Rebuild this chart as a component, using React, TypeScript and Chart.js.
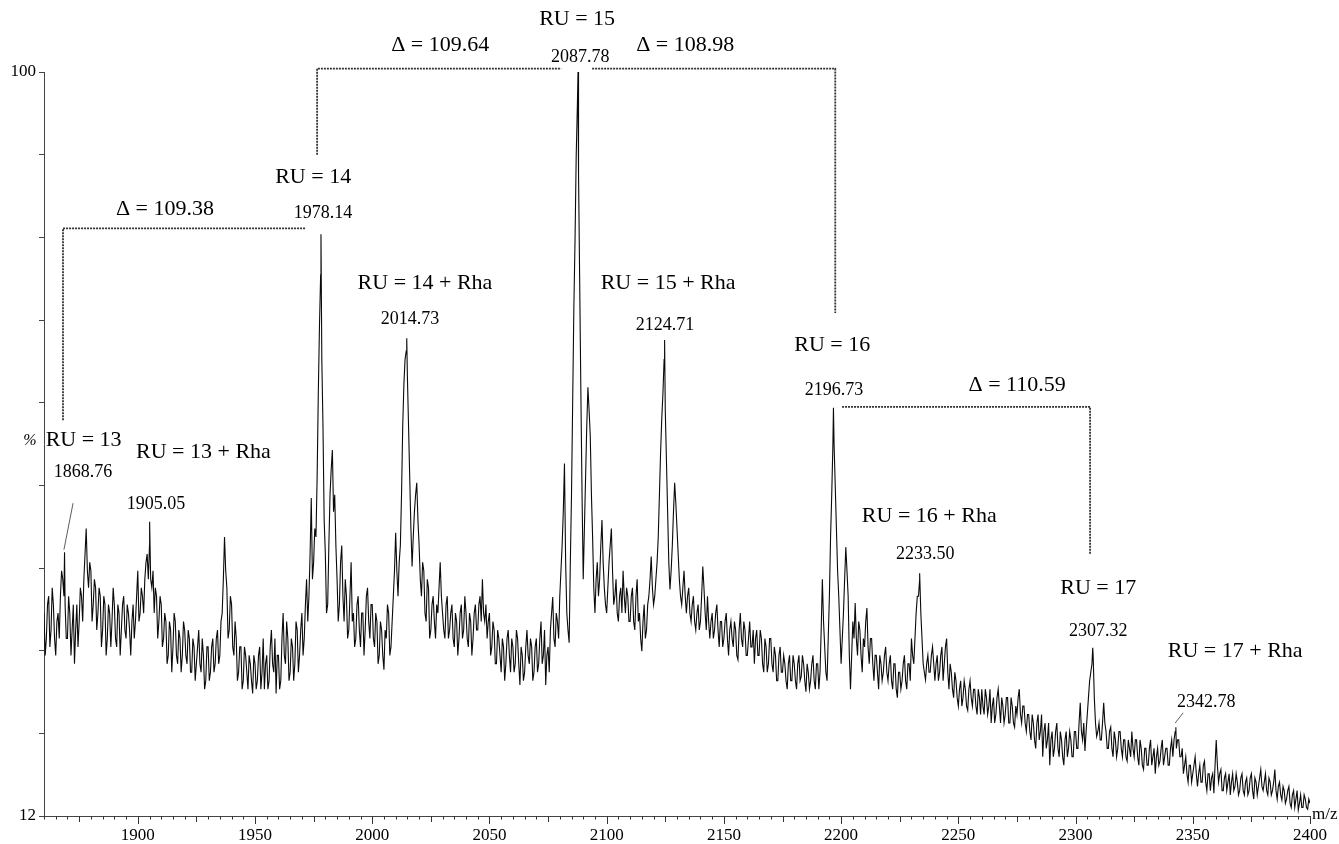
import { useEffect, useRef } from "react";
import { Chart, registerables } from "chart.js";

Chart.register(...registerables);

// ---- spectrum data: intensity (%) at every integer m/z from 1860 to 2400 ----
const MZ_START = 1860;
const MZ_END = 2400;

const seg1860 = [
  36, 33, 38, 34, 37, 31, 36, 38, 40, 37,
  33, 36, 34, 30, 37, 35, 38, 40, 46, 39,
  41, 37, 39, 36, 38, 34, 37, 33, 36, 35,
  37, 32, 36, 34, 38, 33, 36, 31, 37, 35,
  41, 36, 38, 40, 43, 44, 39, 36, 38, 35,
];
const seg1910 = [
  37, 33, 35, 31, 34, 32, 35, 30, 33, 31,
  34, 30, 33, 29, 32, 30, 34, 29, 31, 28,
  32, 29, 33, 30, 34, 31, 36, 45, 39, 34,
  37, 31, 33, 29, 32, 28, 31, 27, 30, 26.5,
  30, 28, 32, 29, 27, 31, 28, 34, 29, 26.5,
];
const seg1960 = [
  31, 28, 36, 30, 33, 29, 32, 30, 34, 31,
  36, 33, 40, 38, 49.6, 42, 45, 62, 76, 58,
  43, 37, 50, 55.3, 50, 40, 37, 44, 35, 38,
  34, 42, 36, 33, 38, 32, 36, 34, 39, 33,
  37, 32, 35, 31, 34, 29.3, 33, 36, 32, 38,
];
const seg2010 = [
  45.5, 38, 44, 58, 66, 64, 52, 41.5, 48, 51.4,
  44, 38, 41, 35, 39, 34, 38, 33, 36, 42,
  36, 33, 38, 34, 37, 32, 35, 33, 37, 34,
  36, 32, 35, 33, 37, 34, 38, 40, 35, 33,
  36, 32, 34, 30, 33, 29, 32, 30, 34, 29,
];
const seg2060 = [
  32, 30, 33, 27.5, 31, 29, 34, 30, 32, 29,
  33, 30, 35, 31, 27.5, 32, 34, 37.9, 32, 35,
  38, 44, 53.7, 36, 32.5, 50, 72, 90, 88, 62,
  40, 52, 62.7, 57, 45, 36, 42, 40, 47, 39,
  36, 42, 46, 37, 40, 35, 39, 41, 36, 38,
];
const seg2110 = [
  35, 39, 34, 40, 36, 31.5, 37, 34, 38, 42.7,
  37, 40, 45, 55, 62, 60, 48, 38.8, 44, 51.4,
  46, 40, 37, 41, 36, 39, 35, 38, 34, 37,
  35, 41.5, 36, 38, 33, 36, 34, 37, 32, 35,
  33, 36, 31, 35, 32, 34, 30.5, 36, 32, 34,
];
const seg2160 = [
  31, 35, 32, 30, 34, 31, 33, 29, 32, 30,
  33, 29, 31, 28, 32, 29, 30, 27, 31, 28,
  30, 27, 31, 28.5, 30, 26.7, 29, 28, 31, 27,
  30, 29, 40, 32, 28, 38, 50, 56, 46, 38,
  30, 36, 43.8, 38, 27, 35, 37.2, 31, 34, 29,
];
const seg2210 = [
  32, 36.6, 30, 33, 28, 31, 27, 30, 29, 32,
  28, 31, 27, 30, 26, 29, 28, 31, 27, 30,
  33, 30, 36, 38, 36, 30, 28.1, 31, 29, 32,
  28, 31, 29, 32, 30, 33, 27, 29, 26, 28,
  25, 28, 26, 27, 24.5, 28, 25, 27, 24, 26,
];
const seg2260 = [
  27, 24, 26, 25, 23, 26, 24, 27, 23, 25,
  24, 26, 23, 25, 22.5, 24, 27, 23, 25, 22,
  24, 21, 23, 20, 24, 22, 19, 23, 21, 18,
  22, 20, 23, 19, 21, 18, 22, 20, 21, 19,
  22, 20, 25.4, 21, 19.7, 24, 28, 30, 26, 21.4,
];
const seg2310 = [
  23, 21, 25.4, 22, 20, 22.5, 19, 21, 20, 22,
  19, 21, 18.5, 20, 22, 19, 21, 18, 20, 17.5,
  20, 18, 21, 19, 17, 20, 18.5, 21, 19, 20,
  18, 21, 21, 20, 21, 19, 17, 19, 16, 18,
  17, 19, 15.5, 18, 16, 18.5, 15, 17, 16.5, 14.7,
];
const seg2360 = [
  21, 16, 17.5, 15, 17, 16, 14.5, 17, 15.5, 16,
  15, 17, 14.5, 16.5, 15, 17, 14, 16, 15.5, 17.5,
  15, 17, 14.5, 16, 15, 17.5, 14, 16, 13.9, 15,
  14, 15.5, 13, 15, 14, 12.7, 14.5, 13, 14, 12.8,
  13.5,
];

// ---- intensity (%) at the half-integer m/z values 1860.5 ... 2399.5 ----
const half1860 = [
  31, 37, 32, 39, 33, 35, 33, 41, 38, 33,
  38, 31, 37, 34, 32, 39, 35, 43, 41, 42,
  35, 40, 34, 39, 32, 38, 31, 37, 32, 39,
  33, 37, 31, 37, 34, 37, 34, 35, 33, 38,
  35, 39, 36, 42, 40, 40, 41, 39, 33, 38,
];
const half1910 = [
  32, 36, 30, 35, 29, 36, 31, 34, 29, 35,
  31, 34, 29, 33, 28, 32, 30, 33, 27, 32,
  28, 32, 29, 33, 30, 35, 40, 41, 33, 38,
  32, 35, 28, 32, 27, 32, 29, 31, 28, 31,
  27, 31, 27, 33, 30, 27, 32, 30, 33, 31,
];
const half1960 = [
  27, 33, 31, 35, 28, 33, 28, 35, 29, 34,
  31, 37, 35, 43, 40, 46, 52, 70, 66, 47,
  36, 44, 53, 48, 44, 35, 42, 38, 40, 33,
  38, 35, 32, 37, 34, 36, 31, 38, 35, 37,
  33, 36, 30, 35, 31, 34, 37, 31, 35, 41,
];
const half2010 = [
  41, 42, 50, 63, 67, 58, 46, 45, 50, 47,
  40, 42, 36, 40, 33, 37, 35, 37, 39, 38,
  34, 37, 33, 36, 33, 36, 31, 36, 33, 38,
  33, 36, 31, 36, 34, 37, 35, 36, 37, 35,
  31, 35, 30, 34, 31, 33, 28, 33, 31, 33,
];
const half2060 = [
  29, 34, 30, 32, 28, 32, 31, 33, 28, 32,
  29, 33, 30, 34, 31, 29, 36, 33, 36, 33,
  41, 48, 42, 34, 42, 61, 80, 96, 75, 50,
  46, 58, 60, 50, 39, 40, 38, 44, 42, 37,
  39, 44, 41, 38, 36, 38, 36, 38, 39, 35,
];
const half2110 = [
  38, 35, 38, 35, 33, 35, 33, 37, 40, 39,
  38, 42, 50, 59, 66, 54, 42, 41, 48, 49,
  43, 38, 39, 38, 38, 36, 37, 35, 36, 34,
  38, 39, 34, 35, 35, 33, 36, 34, 35, 32,
  35, 33, 34, 33, 35, 31, 34, 33, 35, 31,
];
const half2160 = [
  33, 32, 34, 33, 31, 34, 30, 33, 29, 33,
  30, 32, 28, 31, 29, 31, 28, 30, 28, 31,
  28, 30, 28, 31, 28, 30, 27, 30, 28, 30,
  27, 34, 35, 29, 33, 45, 56, 51, 41, 34,
  33, 40, 41, 31, 31, 33, 33, 35, 31, 33,
];
const half2210 = [
  35, 32, 33, 30, 31, 29, 31, 28, 31, 29,
  30, 28, 30, 27, 29, 27, 30, 28, 30, 28,
  31, 33, 38, 40, 33, 29, 30, 29, 31, 30,
  30, 28, 31, 28, 32, 29, 30, 27, 29, 26,
  27, 25, 28, 25, 27, 26, 27, 25, 27, 24,
];
const half2260 = [
  25, 27, 24, 27, 25, 23, 26, 25, 26, 23,
  26, 23, 26, 23, 25, 26, 24, 25, 23, 24,
  22, 24, 21, 23, 21, 24, 22, 20, 23, 21,
  19, 22, 20, 22, 19, 21, 19, 22, 19, 22,
  20, 23, 22, 23, 22, 26, 29, 31, 23, 22,
];
const half2310 = [
  21, 23, 23, 20, 22, 20, 22, 19, 22, 20,
  21, 19, 21, 19, 20, 21, 19, 21, 18, 20,
  18, 20, 18, 20, 19, 18, 20, 18, 20, 18,
  20, 19, 22, 21, 19, 20, 18, 17, 18, 16,
  18, 17, 17, 16, 18, 16, 17, 15, 17, 18,
];
const half2360 = [
  18, 17, 15, 16.5, 15, 17, 16, 15, 17, 14.5,
  16.5, 15, 16, 14.5, 16.5, 15, 16.5, 14.5, 16.5, 15.5,
  16, 15, 16.5, 14.5, 16, 15, 15.5, 14.5, 15.5, 13.5,
  15, 13.5, 14.5, 13, 15, 13.5, 13, 14.5, 13, 14,
];

// labelled peak apexes
const peakMz = [1868.76, 1905.05, 1978.14, 2014.73, 2087.78, 2124.71, 2196.73, 2233.5, 2307.32, 2342.78];
const peakPct = [43.2, 46.8, 80.8, 68.5, 100, 68.3, 60.3, 40.7, 31.9, 22.5];

// axis ticks
const xTickLabels = [1900, 1950, 2000, 2050, 2100, 2150, 2200, 2250, 2300, 2350, 2400];
const yTickLabels = [12, 100];
const Y_INTERVALS = 9;

// annotations (anchored in data space: m/z, %)
const annoText = [
  "RU = 15", "Δ = 109.64", "2087.78", "Δ = 108.98",
  "RU = 14", "1978.14", "Δ = 109.38",
  "RU = 14 + Rha", "2014.73", "RU = 15 + Rha", "2124.71",
  "RU = 16", "2196.73", "Δ = 110.59",
  "RU = 13", "RU = 13 + Rha", "1868.76", "1905.05",
  "RU = 16 + Rha", "2233.50", "RU = 17", "2307.32",
  "RU = 17 + Rha", "2342.78",
];
const annoMz = [
  2087.4, 2029.0, 2088.7, 2133.5,
  1974.8, 1979.0, 1911.6,
  2022.5, 2016.1, 2126.2, 2124.9,
  2196.2, 2197.0, 2275.1,
  1876.9, 1928.0, 1876.6, 1907.8,
  2237.6, 2235.9, 2309.7, 2309.7,
  2368.1, 2355.7,
];
const annoPct = [
  106.2, 103.2, 101.8, 103.2,
  87.6, 83.3, 83.8,
  75.0, 70.7, 75.0, 70.1,
  67.7, 62.4, 63.0,
  56.5, 55.05, 52.7, 48.9,
  47.4, 42.9, 39.0, 33.9,
  31.5, 25.4,
];
const annoBig = [
  true, true, false, true,
  true, false, true,
  true, false, true, false,
  true, false, true,
  true, true, false, false,
  true, false, true, false,
  true, false,
];

// difference brackets
const bracketMz = [
  [1868.1, 1868.1, 1971.8],
  [1976.5, 1976.5, 2080.6],
  [2093.8, 2197.5, 2197.5],
  [2200.4, 2306.2, 2306.2],
];
const bracketPct = [
  [58.8, 81.5, 81.5],
  [90.2, 100.4, 100.4],
  [100.4, 100.4, 71.5],
  [60.4, 60.4, 42.9],
];

// leader lines from small labels to peaks
const leaderMz = [[1872.4, 1868.5], [2345.9, 2342.5]];
const leaderPct = [[49.0, 43.5], [24.2, 23.0]];

const SERIF = "'Liberation Serif', 'Times New Roman', 'DejaVu Serif', serif";

function buildPoints() {
  const base = [
    ...seg1860, ...seg1910, ...seg1960, ...seg2010, ...seg2060, ...seg2110,
    ...seg2160, ...seg2210, ...seg2260, ...seg2310, ...seg2360,
  ];
  const halves = [
    ...half1860, ...half1910, ...half1960, ...half2010, ...half2060, ...half2110,
    ...half2160, ...half2210, ...half2260, ...half2310, ...half2360,
  ];
  const pts: { x: number; y: number }[] = base.map((v, i) => ({ x: MZ_START + i, y: v }));
  halves.forEach((v, i) => pts.push({ x: MZ_START + i + 0.5, y: v }));
  peakMz.forEach((m, i) => pts.push({ x: m, y: peakPct[i] }));
  pts.sort((a, b) => a.x - b.x);
  return pts;
}

const annotationPlugin = {
  id: "specAnnotations",
  afterDatasetsDraw(chart: any) {
    const { ctx, chartArea } = chart;
    const x = chart.scales.x;
    const y = chart.scales.y;
    ctx.save();

    // x-axis tick marks (every 5 m/z)
    ctx.strokeStyle = "#333";
    ctx.lineWidth = 1;
    ctx.setLineDash([]);
    for (let v = MZ_START; v <= MZ_END; v += 5) {
      const px = Math.round(x.getPixelForValue(v)) + 0.5;
      const len = v % 50 === 0 ? 8 : v % 25 === 0 ? 6 : 3.5;
      ctx.beginPath();
      ctx.moveTo(px, chartArea.bottom);
      ctx.lineTo(px, chartArea.bottom + len);
      ctx.stroke();
    }

    // brackets
    ctx.strokeStyle = "#333";
    ctx.lineWidth = 1.8;
    ctx.setLineDash([2, 1]);
    bracketMz.forEach((ms, bi) => {
      ctx.beginPath();
      ms.forEach((m, k) => {
        const px = x.getPixelForValue(m);
        const py = y.getPixelForValue(bracketPct[bi][k]);
        if (k === 0) ctx.moveTo(px, py);
        else ctx.lineTo(px, py);
      });
      ctx.stroke();
    });
    ctx.setLineDash([]);

    // leaders
    ctx.strokeStyle = "#333";
    ctx.lineWidth = 0.8;
    leaderMz.forEach((ms, li) => {
      ctx.beginPath();
      ctx.moveTo(x.getPixelForValue(ms[0]), y.getPixelForValue(leaderPct[li][0]));
      ctx.lineTo(x.getPixelForValue(ms[1]), y.getPixelForValue(leaderPct[li][1]));
      ctx.stroke();
    });

    // texts
    ctx.fillStyle = "#000";
    ctx.textAlign = "center";
    ctx.textBaseline = "middle";
    annoText.forEach((t, i) => {
      ctx.font = annoBig[i] ? `22px ${SERIF}` : `18px ${SERIF}`;
      ctx.fillText(t, x.getPixelForValue(annoMz[i]), y.getPixelForValue(annoPct[i]));
    });

    // axis titles
    ctx.font = `italic 16px ${SERIF}`;
    ctx.textAlign = "center";
    ctx.fillText("%", chartArea.left - 14, y.getPixelForValue(56.4));
    ctx.font = `17px ${SERIF}`;
    ctx.textAlign = "left";
    ctx.fillText("m/z", chartArea.right + 2, chartArea.bottom - 1);

    ctx.restore();
  },
};

export default function App() {
  const canvasRef = useRef<HTMLCanvasElement | null>(null);

  useEffect(() => {
    if (!canvasRef.current) return;
    const chart = new Chart(canvasRef.current, {
      type: "line",
      data: {
        datasets: [
          {
            data: buildPoints(),
            borderColor: "#0a0a0a",
            borderWidth: 1.1,
            pointRadius: 0,
            tension: 0,
            fill: false,
          },
        ],
      },
      options: {
        animation: false,
        responsive: false,
        devicePixelRatio: 1,
        parsing: false,
        normalized: true,
        layout: { padding: { left: 0, right: 29, top: 72, bottom: 0 } },
        plugins: {
          legend: { display: false },
          tooltip: { enabled: false },
          title: { display: false },
        },
        scales: {
          x: {
            type: "linear",
            min: MZ_START,
            max: MZ_END,
            afterBuildTicks: (scale: any) => {
              scale.ticks = xTickLabels.map((v) => ({ value: v }));
            },
            afterFit: (scale: any) => {
              scale.height = 28;
            },
            ticks: {
              autoSkip: false,
              maxRotation: 0,
              padding: 9,
              color: "#000",
              font: { family: SERIF, size: 17 },
              callback: (v: any) => String(v),
            },
            grid: { display: false, drawTicks: false },
            border: { display: true, color: "#444", width: 1 },
          },
          y: {
            type: "linear",
            min: 12,
            max: 100,
            afterBuildTicks: (scale: any) => {
              const t = [];
              for (let k = 0; k <= Y_INTERVALS; k++) {
                t.push({ value: yTickLabels[0] + (k * (yTickLabels[1] - yTickLabels[0])) / Y_INTERVALS });
              }
              scale.ticks = t;
            },
            afterFit: (scale: any) => {
              scale.width = 44;
            },
            ticks: {
              autoSkip: false,
              padding: 3,
              color: "#000",
              font: { family: SERIF, size: 17 },
              callback: (v: any) => {
                const r = Math.round(Number(v) * 1000) / 1000;
                return yTickLabels.includes(r) ? String(r) : "";
              },
            },
            grid: {
              display: true,
              drawOnChartArea: false,
              drawTicks: true,
              tickLength: 5,
              color: "#444",
            },
            border: { display: true, color: "#444", width: 1 },
          },
        },
      },
      plugins: [annotationPlugin],
    });
    return () => chart.destroy();
  }, []);

  return (
    <div style={{ position: "absolute", left: 0, top: 0, width: 1339, height: 844, background: "#fff" }}>
      <canvas ref={canvasRef} width={1339} height={844} style={{ display: "block" }} />
    </div>
  );
}
